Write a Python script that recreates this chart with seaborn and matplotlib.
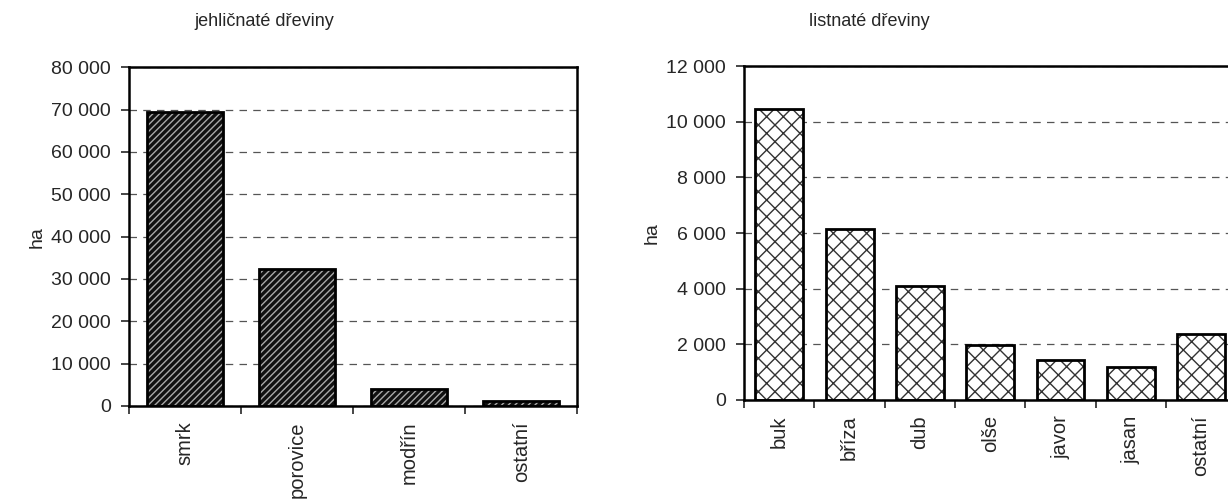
import matplotlib
matplotlib.use("Agg")
import matplotlib.pyplot as plt
import matplotlib.ticker as mticker
import seaborn as sns
import pandas as pd

# --- Data ---
conifer_names = ["smrk", "porovice", "modřín", "ostatní"]
conifer_ha = [69300, 32400, 4000, 1200]

broadleaf_names = ["buk", "bříza", "dub", "olše", "javor", "jasan", "ostatní"]
broadleaf_ha = [10450, 6150, 4100, 1980, 1450, 1180, 2380]

sns.set_style("white")
plt.rcParams["font.family"] = ["Liberation Sans", "DejaVu Sans"]
plt.rcParams["hatch.linewidth"] = 1.0

fig = plt.figure(figsize=(12.28, 4.99), dpi=100)
ax1 = fig.add_axes([0.105, 0.1864, 0.365, 0.679])
ax2 = fig.add_axes([0.606, 0.1984, 0.4007, 0.669])


def space_thousands(v, pos):
    return f"{int(round(v)):,}".replace(",", " ")


def draw_panel(ax, names, values, face, hatch_col, hatch, ymax, ystep):
    df = pd.DataFrame({"name": names, "ha": values})
    # hatched fill
    sns.barplot(data=df, x="name", y="ha", ax=ax, color=face, width=0.68,
                saturation=1, linewidth=0, errorbar=None)
    for p in ax.patches:
        p.set_hatch(hatch)
        p.set_edgecolor(hatch_col)
        p.set_linewidth(0)
    # black outline on top
    sns.barplot(data=df, x="name", y="ha", ax=ax, fill=False, width=0.68,
                edgecolor="black", linewidth=2, errorbar=None)

    n = len(names)
    ax.set_xlim(-0.5, n - 0.5)
    ax.set_ylim(0, ymax)
    ax.set_yticks(range(0, ymax + 1, ystep))
    ax.yaxis.set_major_formatter(mticker.FuncFormatter(space_thousands))
    ax.yaxis.grid(True, linestyle=(0, (6, 5)), color="#555555", linewidth=0.9)
    ax.set_axisbelow(True)

    ax.set_xticks(range(n))
    ax.set_xticklabels(names, rotation=90)
    ax.set_xticks([i - 0.5 for i in range(n + 1)], minor=True)
    ax.tick_params(axis="x", which="major", length=0, pad=11, labelsize=14.5)
    ax.tick_params(axis="x", which="minor", length=6, width=1.2, direction="out",
                   bottom=True)
    ax.tick_params(axis="y", length=6, width=1.2, direction="out", left=True,
                   labelsize=14, pad=7)
    for s in ax.spines.values():
        s.set_visible(True)
        s.set_color("black")
        s.set_linewidth(1.8)
    ax.set_xlabel("")
    ax.set_ylabel("ha", fontsize=14, labelpad=4)


draw_panel(ax1, conifer_names, conifer_ha, "#111111", "#a8a8a8", "/////",
           80000, 10000)
draw_panel(ax2, broadleaf_names, broadleaf_ha, "white", "#333333", "xx",
           12000, 2000)

fig.text(264 / 1228, 1 - 22 / 499, "jehličnaté dřeviny", ha="center",
         va="center", fontsize=13)
fig.text(869 / 1228, 1 - 22 / 499, "listnaté dřeviny", ha="center",
         va="center", fontsize=13)

fig.savefig("out.png", dpi=100)
